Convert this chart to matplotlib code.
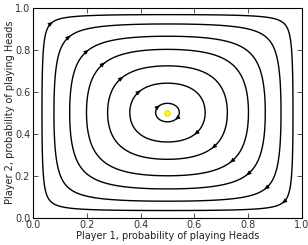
import numpy as np
import matplotlib
matplotlib.use('Agg')
from matplotlib import pyplot as plt

# x where each orbit crosses y = 0.5 (left side)
orbit_x0 = [0.456, 0.36, 0.2775, 0.199, 0.1365, 0.078, 0.0335]
rest_point = (0.5, 0.5)

def g(p):
    u = np.abs(2 * p - 1)
    return u ** 2 / (1 - u) ** 0.7

fig = plt.figure(figsize=(3.08, 2.45), dpi=100)
ax = fig.add_axes([0.107, 0.112, 0.8735, 0.857])

grid = np.linspace(0.0005, 0.9995, 900)
X, Y = np.meshgrid(grid, grid)
H = g(X) + g(Y)
levels = sorted(g(np.array(orbit_x0)) + g(0.5))
ax.contour(X, Y, H, levels=levels, colors='k', linewidths=1.0)

# arrows where each orbit meets the anti-diagonal
u_fine = np.linspace(0, 0.999, 20000)
g_fine = g(0.5 + u_fine / 2)
for lv in levels:
    u_c = np.interp(lv / 2, g_fine, u_fine)
    d = u_c / 2
    for px, py, s in [(0.5 - d, 0.5 + d, 1), (0.5 + d, 0.5 - d, -1)]:
        e = 0.003 * s
        ax.annotate('', xy=(px + e, py + e), xytext=(px - e, py - e),
                    arrowprops=dict(arrowstyle='-|>,head_length=0.5,head_width=0.22',
                                    color='k', lw=0.6, mutation_scale=5.5,
                                    shrinkA=0, shrinkB=0))

ax.plot(*rest_point, 'o', color='#ffff00', markeredgecolor='#d8c800',
        markeredgewidth=0.5, markersize=4)

ax.set_xlim(0, 1)
ax.set_ylim(0, 1)
ax.set_xticks([0.0, 0.2, 0.4, 0.6, 0.8, 1.0])
ax.set_yticks([0.0, 0.2, 0.4, 0.6, 0.8, 1.0])
ax.tick_params(direction='in', top=True, right=True, length=3.5, width=0.6,
               labelsize=7, pad=2, colors='#333333')
for sp in ax.spines.values():
    sp.set_linewidth(0.8)
ax.set_xlabel('Player 1, probability of playing Heads', fontsize=7, color='#222222')
ax.set_ylabel('Player 2, probability of playing Heads', fontsize=7, color='#222222')
ax.xaxis.set_label_coords(0.5, -0.062)
ax.yaxis.set_label_coords(-0.066, 0.5)

plt.savefig('out.png', dpi=100)
